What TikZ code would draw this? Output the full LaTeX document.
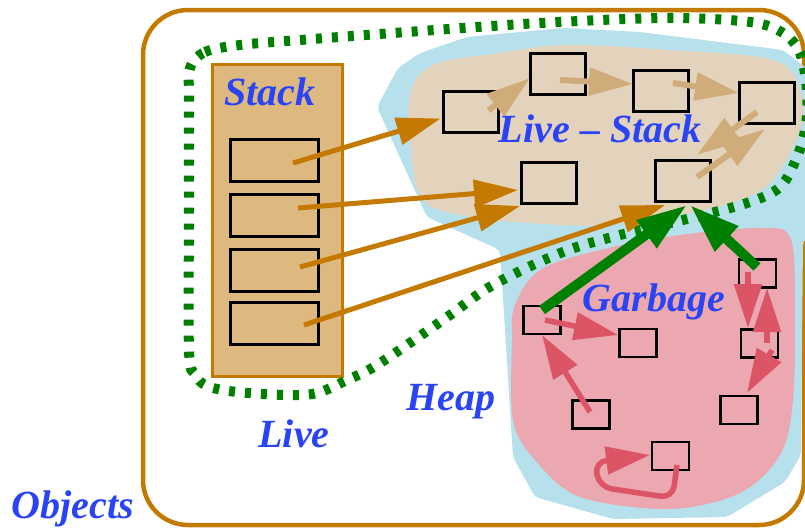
\documentclass[tikz,border=0pt]{standalone}
\usepackage{fontspec}
\setmainfont{Liberation Serif}
\usetikzlibrary{arrows.meta,calc}
\definecolor{ochre}{RGB}{196,122,0}
\definecolor{stackfill}{RGB}{222,185,127}
\definecolor{livefill}{RGB}{227,211,188}
\definecolor{tanarrow}{RGB}{207,172,122}
\definecolor{heapfill}{RGB}{182,225,236}
\definecolor{garbfill}{RGB}{235,168,176}
\definecolor{pinkarrow}{RGB}{220,85,102}
\definecolor{dgreen}{RGB}{0,128,0}
\definecolor{lblue}{RGB}{42,68,245}
\begin{document}
\begin{tikzpicture}[x=1pt,y=-1pt,
 lbl/.style={text=lblue,font=\fontsize{40}{48}\selectfont\bfseries\itshape,inner sep=0pt,anchor=base},
 obj/.style={draw=black,line width=3pt,minimum width=55pt,minimum height=41pt,inner sep=0pt,outer sep=0pt},
 sobj/.style={draw=black,line width=3pt,minimum width=88pt,minimum height=42pt,inner sep=0pt,outer sep=0pt},
 gobj/.style={draw=black,line width=2.8pt,minimum width=37pt,minimum height=28pt,inner sep=0pt,outer sep=0pt},
 bighead/.style={-{Triangle[length=44pt,width=27pt]}},
 stackref/.style={draw=ochre,line width=5pt,bighead},
 liveref/.style={draw=tanarrow,line width=6pt,bighead},
 garbref/.style={draw=pinkarrow,line width=5.5pt,bighead},
 rootref/.style={draw=dgreen,line width=10pt,-{Triangle[length=50pt,width=32pt]}},
 liveline/.style={draw=dgreen,line width=10pt,dash pattern=on 6pt off 10pt},
]
\useasboundingbox (0,0) rectangle (805,528);

% Objects frame
\draw[ochre,line width=4.5pt,rounded corners=45pt] (143,10) rectangle (804,525);

% Heap region
\fill[heapfill,rounded corners=5pt] (377,107) -- (398,68) -- (420,53) -- (467,37) -- (563,28)
  -- (640,32) -- (783,50) -- (815,75) -- (815,235) -- (803,240) -- (801,455) -- (785,482)
  -- (727,517) -- (613,519) -- (535,497) -- (513,457) -- (500,250) -- (427,217) -- cycle;

% Live-Stack region
\fill[livefill] plot[smooth cycle,tension=0.6] coordinates {(410,95) (433,65) (500,53) (567,45)
  (670,50) (773,60) (800,90) (800,130) (773,180) (740,200) (690,213) (600,225) (530,223)
  (470,217) (423,200) (411,150)};

% Garbage region
\fill[garbfill] plot[smooth cycle,tension=0.55] coordinates {(515,305) (540,270) (600,250)
  (680,235) (760,228) (790,237) (795,300) (793,400) (780,455) (740,493) (670,509) (580,497)
  (535,460) (513,420) (512,340)};

% Stack
\node[draw=ochre,fill=stackfill,line width=3pt,minimum width=130pt,minimum height=312pt,
  inner sep=0pt] (stack) at (277,220) {};

% Live boundary
\draw[liveline] plot[smooth cycle,tension=0.55] coordinates {(190,68) (205,52) (240,45)
  (300,40) (407,32) (540,23) (667,18) (750,22) (783,33) (800,53) (807,90) (806,125) (797,157)
  (780,187) (747,203) (683,220) (620,235) (563,252) (493,285) (443,320) (377,365) (347,380)
  (317,393) (287,395) (237,392) (207,386) (195,374) (189,350) (189,200) (189,100)};

% Stack slots
\node[sobj] (s1) at (274,160) {};
\node[sobj] (s2) at (274,215) {};
\node[sobj] (s3) at (274,270) {};
\node[sobj] (s4) at (274,323.5) {};

% Live objects
\node[obj] (A) at (470.5,111.5) {};
\node[obj] (B) at (557.5,74) {};
\node[obj] (C) at (660.5,91) {};
\node[obj] (D) at (766.5,102.5) {};
\node[obj] (E) at (548.5,182.5) {};
\node[obj] (F) at (683,181) {};

% Garbage objects
\node[gobj] (G1) at (542,320) {};
\node[gobj] (G2) at (638,343) {};
\node[gobj] (G3) at (757.5,273.5) {};
\node[gobj] (G4) at (759.5,343.5) {};
\node[gobj] (G5) at (739,410) {};
\node[gobj] (G6) at (591,414.5) {};
\node[gobj] (G7) at (670.5,456) {};

% Stack references
\draw[stackref] ($(s1)+(19,3)$) -- ($(A)+(-30,7)$);
\draw[stackref] ($(s2)+(24,-7)$) -- ($(E)+(-30.5,7.5)$);
\draw[stackref] ($(s3)+(26,-3)$) -- ($(E)+(-28.5,23.5)$);
\draw[stackref] ($(s4)+(30,1.5)$) -- ($(F)+(-18,24)$);

% Live references
\draw[liveref] ($(A)+(18,-1)$) -- ($(B)+(-27.5,4)$);
\draw[liveref] ($(B)+(2.5,6)$) -- ($(C)+(-27.5,-7)$);
\draw[liveref] ($(C)+(12.5,-8)$) -- ($(D)+(-27.5,-9.5)$);
\draw[liveref] ($(D)+(-9.5,9.5)$) -- ($(F)+(14,-26)$);
\draw[liveref] ($(F)+(14,-4)$) -- ($(D)+(-1.5,26.5)$);

% Garbage references
\draw[garbref] ($(G1)+(3,0)$) -- ($(G2)+(-20,-8)$);
\draw[garbref] ($(G6)+(-1,-2.5)$) -- ($(G1)+(0,15)$);
\draw[garbref] ($(G3)+(-9.5,-1.5)$) -- ($(G4)+(-11.5,-15.5)$);
\draw[garbref] ($(G4)+(7.5,-0.5)$) -- ($(G3)+(9.5,14.5)$);
\draw[garbref] ($(G4)+(12.5,6.5)$) -- ($(G5)+(8,-17)$);
\draw[garbref,rounded corners=12pt] ($(G7)+(6.5,9)$) -- ($(G7)+(2,42)$) -- ($(G7)+(-71,31)$)
  -- ($(G7)+(-76,6)$) -- ($(G7)+(-20.5,-1)$);

% Garbage to live references
\draw[rootref] ($(G1)+(0,-10)$) -- ($(F)+(4,24)$);
\draw[rootref] ($(G3)+(-0.5,-6.5)$) -- ($(F)+(7,24)$);

% Labels
\node[lbl] (tstack) at (270,105) {Stack};
\node[lbl] (tlivestack) at (600,142) {Live – Stack};
\node[lbl] (tgarbage) at (654,311) {Garbage};
\node[lbl] (theap) at (451,410) {Heap};
\node[lbl] (tlive) at (294,447) {Live};
\node[lbl] (tobjects) at (73,518) {Objects};
\end{tikzpicture}
\end{document}
